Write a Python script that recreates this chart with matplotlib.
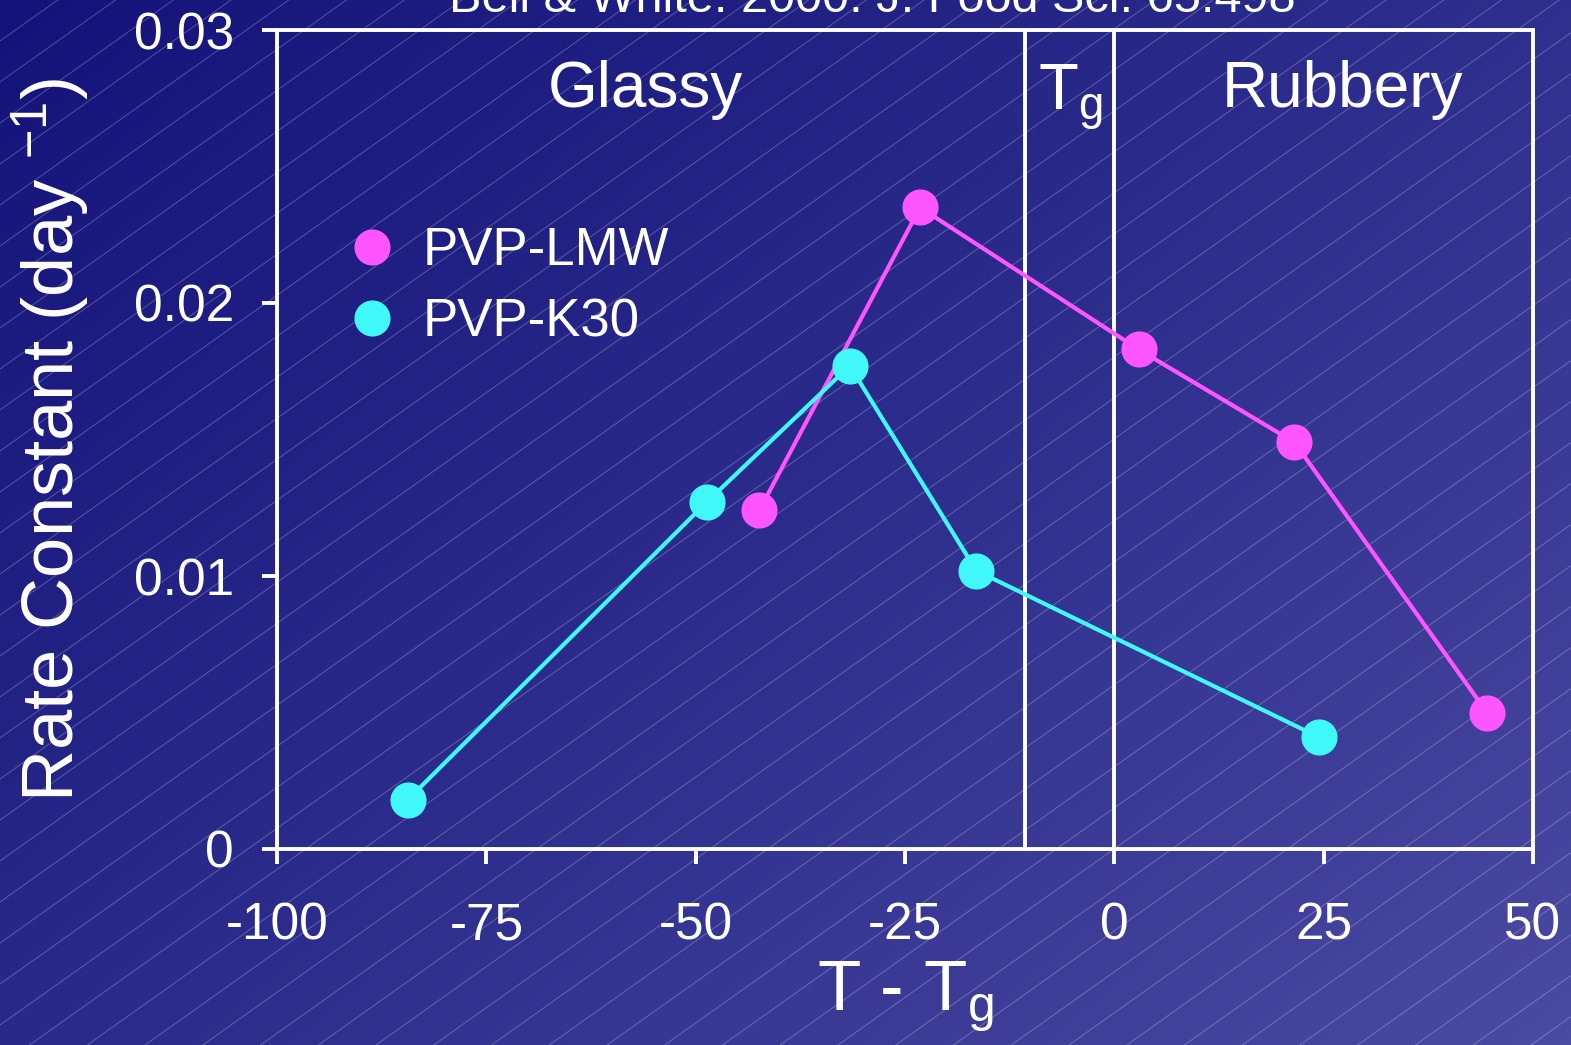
import numpy as np
import matplotlib
matplotlib.use("Agg")
import matplotlib.pyplot as plt
from matplotlib.colors import LinearSegmentedColormap

# Data
lmw_x = [-42.4, -23.2, 2.9, 21.5, 44.5]
lmw_y = [0.0124, 0.0235, 0.0183, 0.0149, 0.0050]
k30_x = [-84.4, -48.7, -31.6, -16.5, 24.4]
k30_y = [0.0018, 0.0127, 0.0177, 0.0102, 0.0041]
tg_bounds = [-10.7, 0]
x_ticks = [-100, -75, -50, -25, 0, 25, 50]
y_ticks = [0, 0.01, 0.02, 0.03]
y_tick_labels = ["0", "0.01", "0.02", "0.03"]

plt.rcParams['font.family'] = ['Liberation Sans', 'DejaVu Sans']
plt.rcParams['mathtext.fontset'] = 'custom'
plt.rcParams['mathtext.rm'] = 'Liberation Sans'
plt.rcParams['mathtext.it'] = 'Liberation Sans:italic'
plt.rcParams['axes.unicode_minus'] = False

W, H = 1571, 1045
fig = plt.figure(figsize=(W / 100, H / 100), dpi=100)

# gradient background with faint diagonal lines
bg = fig.add_axes([0, 0, 1, 1], zorder=-1)
xx, yy = np.meshgrid(np.linspace(0, 1, 200), np.linspace(0, 1, 140))
grad = (xx * 0.55 + yy * 0.45)
cmap = LinearSegmentedColormap.from_list("bg", ["#13137a", "#2c2c8c", "#4a4aa2"])
bg.imshow(grad, cmap=cmap, extent=[0, W, H, 0], aspect='auto', interpolation='bilinear')
slope = 0.71
for c in np.arange(0, H + slope * W + 60, 41):
    bg.plot([0, W], [c, c - slope * W], color='white', alpha=0.25, lw=0.7)
bg.set_xlim(0, W)
bg.set_ylim(H, 0)
bg.axis('off')

ax = fig.add_axes([277 / W, 1 - 849 / H, (1533 - 277) / W, (849 - 30) / H])
ax.set_facecolor('none')

ax.plot(lmw_x, lmw_y, color='#ff55ff', lw=3, marker='o', markersize=25,
        label='PVP-LMW', zorder=3)
ax.plot(k30_x, k30_y, color='#40f8f8', lw=3, marker='o', markersize=25,
        label='PVP-K30', zorder=4)

for xv in tg_bounds:
    ax.axvline(xv, color='white', lw=2.8, zorder=2)

ax.set_xlim(-100, 50)
ax.set_ylim(0, 0.03)
ax.set_xticks(x_ticks)
ax.set_xticklabels([str(v) for v in x_ticks])
ax.set_yticks(y_ticks)
ax.set_yticklabels(y_tick_labels)
for s in ax.spines.values():
    s.set_color('white')
    s.set_linewidth(2.8)
ax.tick_params(direction='out', length=11, width=2.8, colors='white',
               labelsize=37)
ax.tick_params(axis='x', pad=27)
ax.tick_params(axis='y', pad=20)

ax.text(-56, 0.0278, 'Glassy', color='white', fontsize=46, ha='center', va='center')
ax.text(27.3, 0.0278, 'Rubbery', color='white', fontsize=46, ha='center', va='center')
ax.text(-5.3, 0.0275, r'T$_{\mathrm{g}}$', color='white', fontsize=47, ha='center', va='center')

ax.set_xlabel(r'T - T$_{\mathrm{g}}$', color='white', fontsize=51, labelpad=6)
ax.set_ylabel(r'Rate Constant (day $^{-1}$)', color='white', fontsize=52, labelpad=30)

leg = ax.legend(loc='upper left', bbox_to_anchor=(346 / W, 1 - 226 / H),
                bbox_transform=fig.transFigure, frameon=False, fontsize=38,
                handlelength=1.0, handletextpad=0.45, labelspacing=0.4,
                borderpad=0, borderaxespad=0)
for line in leg.get_lines():
    line.set_linestyle('none')
for t in leg.get_texts():
    t.set_color('white')

fig.text(872 / W, 1 - 12 / H, 'Bell & White. 2000. J. Food Sci. 65:498',
         color='white', fontsize=35, ha='center', va='baseline')

fig.savefig('out.png', dpi=100)
